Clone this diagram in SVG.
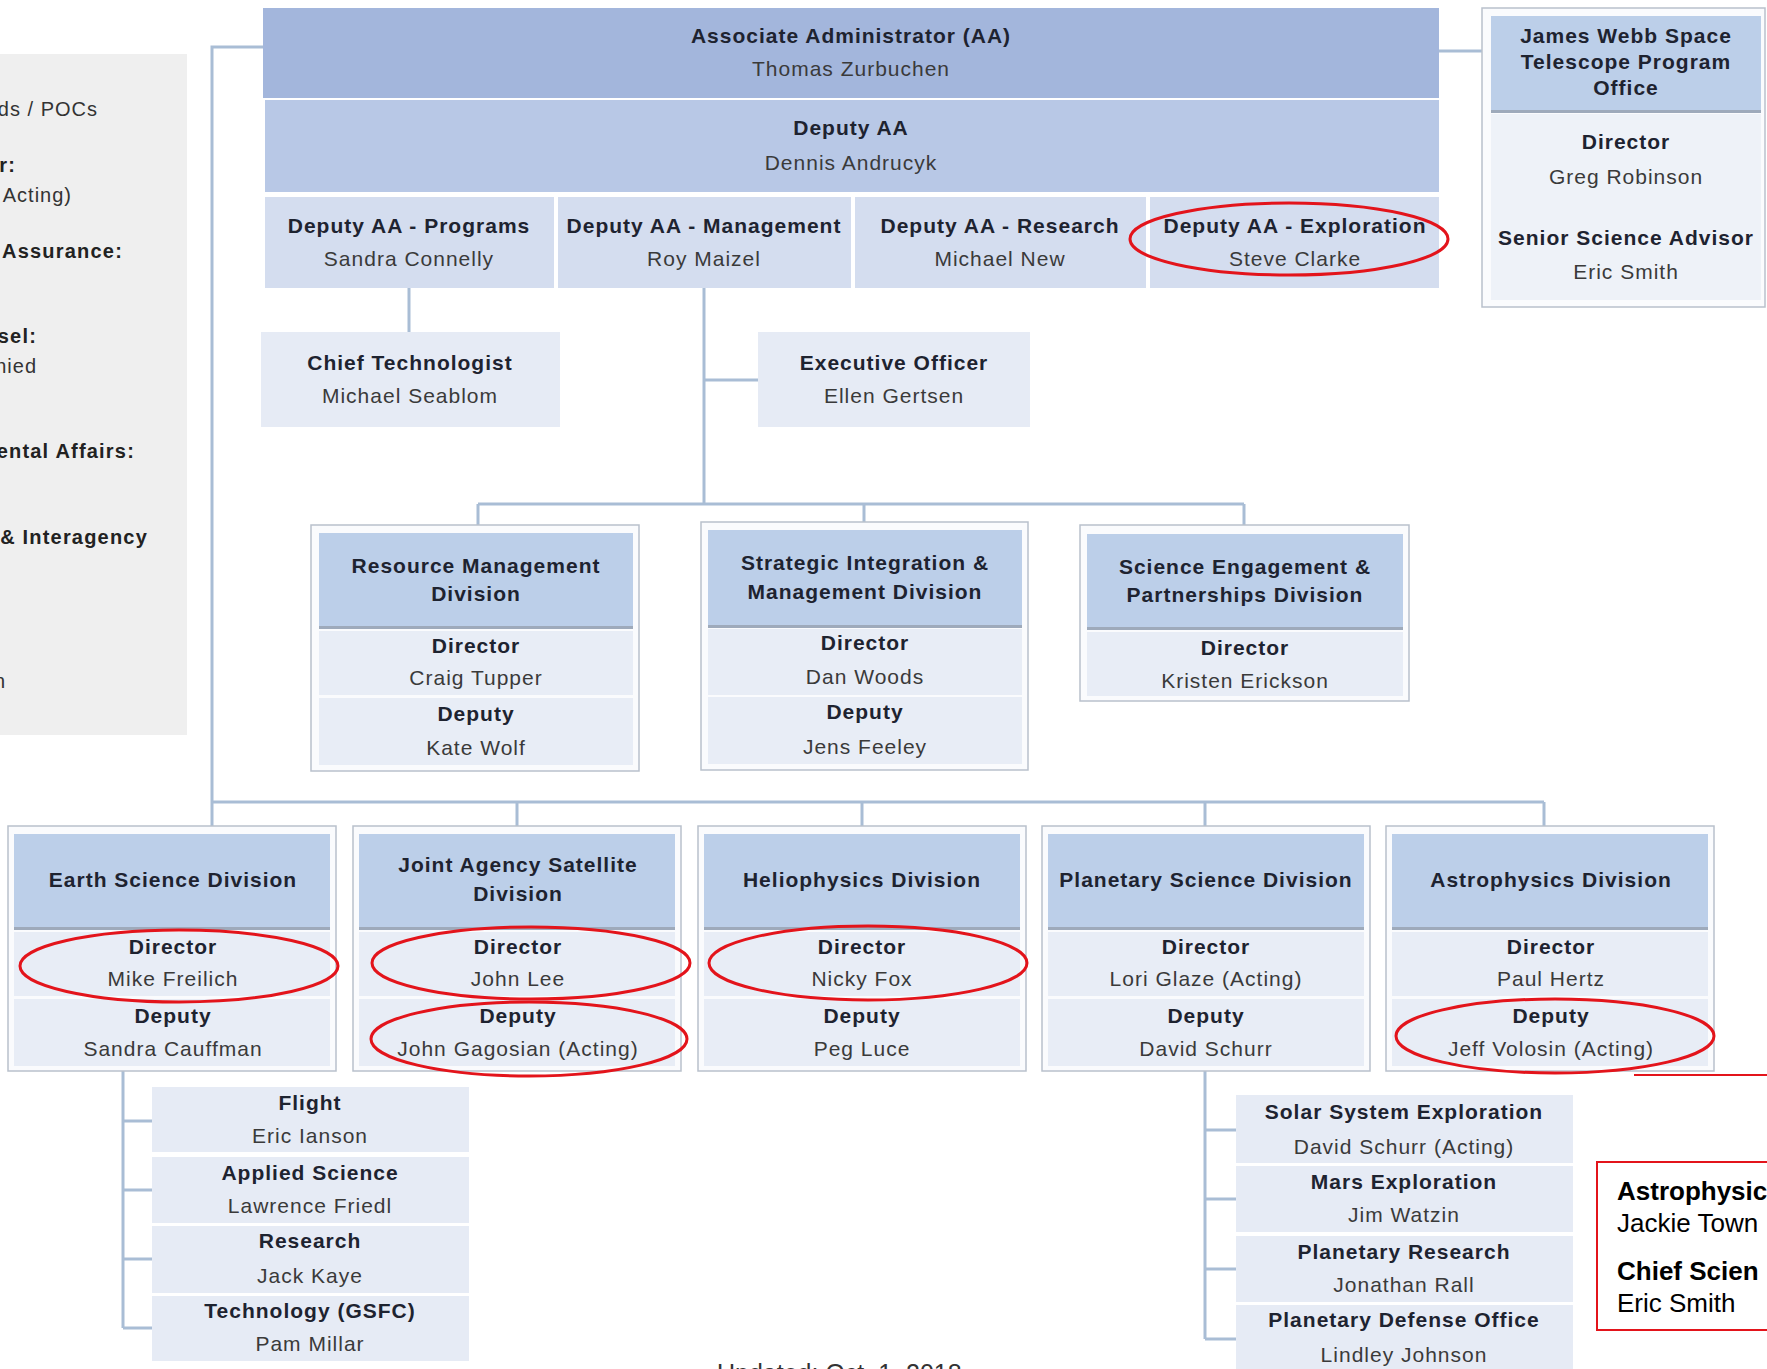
<svg xmlns="http://www.w3.org/2000/svg" width="1767" height="1369" viewBox="0 0 1767 1369">
<style>
text{font-family:"Liberation Sans",Arial,sans-serif;font-size:21px;letter-spacing:1px;text-anchor:middle}
.b{font-weight:bold;fill:#1e2330}
.n{fill:#3a3a3a}
.lp{text-anchor:end;fill:#333;font-size:20px;letter-spacing:1px}
.lpb{text-anchor:end;fill:#222;font-size:20px;font-weight:bold;letter-spacing:1.2px}
.rb{text-anchor:start;font-size:26px;letter-spacing:0;fill:#000}
.conn{stroke:#a9bdd5;stroke-width:3;fill:none}
.outer{fill:#fafbfd;stroke:#b9c1cc;stroke-width:1.5}
.hdr{fill:#bccfe9}
.shd{fill:#9eaabb}
.row{fill:#e8edf6}
.sub{fill:#e6ebf5}
.ell{fill:none;stroke:#e3141b;stroke-width:3}
</style>
<rect width="1767" height="1369" fill="#ffffff"/>

<g id="left-panel">
<rect x="0" y="54" width="187" height="681" fill="#efefef"/>
<text class="lp" x="98" y="116">ds / POCs</text>
<text class="lpb" x="16" y="172">r:</text>
<text class="lp" x="72" y="202">Acting)</text>
<text class="lpb" x="123" y="258">Assurance:</text>
<text class="lpb" x="37" y="343">sel:</text>
<text class="lp" x="37" y="373">nied</text>
<text class="lpb" x="135" y="458">ental Affairs:</text>
<text class="lpb" x="148" y="544">&amp; Interagency</text>
<text class="lp" x="6" y="688">n</text>
</g>

<g id="connectors">
<path class="conn" d="M263,47 H212 V826"/>
<path class="conn" d="M212,802 H1544"/>
<path class="conn" d="M517,802 V826 M862,802 V826 M1205,802 V826 M1544,802 V826"/>
<path class="conn" d="M409,288 V332"/>
<path class="conn" d="M704,288 V504 M704,380 H758"/>
<path class="conn" d="M478,504 H1244 M478,504 V525 M864,504 V522 M1244,504 V525"/>
<path class="conn" d="M1439,51 H1482"/>
<path class="conn" d="M123,1071 V1328 M123,1121 H152 M123,1190 H152 M123,1259 H152 M123,1328 H152"/>
<path class="conn" d="M1205,1071 V1339 M1205,1130 H1236 M1205,1199 H1236 M1205,1269 H1236 M1205,1339 H1236"/>
</g>

<g id="aa">
<rect x="263" y="8" width="1176" height="90" fill="#a3b6dc"/>
<text class="b" x="851" y="43">Associate Administrator (AA)</text>
<text class="n" x="851" y="76">Thomas Zurbuchen</text>
</g>
<g id="deputy-aa">
<rect x="265" y="100" width="1174" height="92" fill="#b8c8e6"/>
<text class="b" x="851" y="135">Deputy AA</text>
<text class="n" x="851" y="170">Dennis Andrucyk</text>
</g>
<g id="dep-programs">
<rect x="265" y="197" width="289" height="91" fill="#d4ddef"/>
<text class="b" x="409" y="233">Deputy AA - Programs</text>
<text class="n" x="409" y="266">Sandra Connelly</text>
</g>
<g id="dep-management">
<rect x="558" y="197" width="293" height="91" fill="#d4ddef"/>
<text class="b" x="704" y="233">Deputy AA - Management</text>
<text class="n" x="704" y="266">Roy Maizel</text>
</g>
<g id="dep-research">
<rect x="855" y="197" width="291" height="91" fill="#d4ddef"/>
<text class="b" x="1000" y="233">Deputy AA - Research</text>
<text class="n" x="1000" y="266">Michael New</text>
</g>
<g id="dep-exploration">
<rect x="1150" y="197" width="289" height="91" fill="#d4ddef"/>
<text class="b" x="1295" y="233">Deputy AA - Exploration</text>
<text class="n" x="1295" y="266">Steve Clarke</text>
</g>

<g id="jwst">
<rect class="outer" x="1482" y="8" width="283" height="299"/>
<rect class="hdr" x="1491" y="16" width="270" height="96"/>
<rect class="shd" x="1491" y="110" width="270" height="3"/>
<rect x="1491" y="114" width="270" height="186" fill="#eef2f8"/>
<text class="b" x="1626" y="43">James Webb Space</text>
<text class="b" x="1626" y="69">Telescope Program</text>
<text class="b" x="1626" y="95">Office</text>
<text class="b" x="1626" y="149">Director</text>
<text class="n" x="1626" y="184">Greg Robinson</text>
<text class="b" x="1626" y="245">Senior Science Advisor</text>
<text class="n" x="1626" y="279">Eric Smith</text>
</g>

<g id="chief-technologist">
<rect x="261" y="332" width="299" height="95" fill="#e6ebf5"/>
<text class="b" x="410" y="370">Chief Technologist</text>
<text class="n" x="410" y="403">Michael Seablom</text>
</g>
<g id="executive-officer">
<rect x="758" y="332" width="272" height="95" fill="#e6ebf5"/>
<text class="b" x="894" y="370">Executive Officer</text>
<text class="n" x="894" y="403">Ellen Gertsen</text>
</g>

<g id="resource-management">
<rect class="outer" x="311" y="525" width="328" height="246"/>
<rect class="hdr" x="319" y="533" width="314" height="95"/>
<rect class="shd" x="319" y="626" width="314" height="3"/>
<rect class="row" x="319" y="631" width="314" height="64"/>
<rect class="row" x="319" y="698" width="314" height="67"/>
<text class="b" x="476" y="573">Resource Management</text>
<text class="b" x="476" y="601">Division</text>
<text class="b" x="476" y="653">Director</text>
<text class="n" x="476" y="685">Craig Tupper</text>
<text class="b" x="476" y="721">Deputy</text>
<text class="n" x="476" y="755">Kate Wolf</text>
</g>
<g id="strategic-integration">
<rect class="outer" x="701" y="522" width="327" height="248"/>
<rect class="hdr" x="708" y="530" width="314" height="97"/>
<rect class="shd" x="708" y="625" width="314" height="3"/>
<rect class="row" x="708" y="629" width="314" height="66"/>
<rect class="row" x="708" y="697" width="314" height="67"/>
<text class="b" x="865" y="570">Strategic Integration &amp;</text>
<text class="b" x="865" y="599">Management Division</text>
<text class="b" x="865" y="650">Director</text>
<text class="n" x="865" y="684">Dan Woods</text>
<text class="b" x="865" y="719">Deputy</text>
<text class="n" x="865" y="754">Jens Feeley</text>
</g>
<g id="science-engagement">
<rect class="outer" x="1080" y="525" width="329" height="176"/>
<rect class="hdr" x="1087" y="534" width="316" height="95"/>
<rect class="shd" x="1087" y="627" width="316" height="3"/>
<rect class="row" x="1087" y="632" width="316" height="64"/>
<text class="b" x="1245" y="574">Science Engagement &amp;</text>
<text class="b" x="1245" y="602">Partnerships Division</text>
<text class="b" x="1245" y="655">Director</text>
<text class="n" x="1245" y="688">Kristen Erickson</text>
</g>

<g id="earth-science">
<rect class="outer" x="8" y="826" width="328" height="245"/>
<rect class="hdr" x="14" y="834" width="316" height="95"/>
<rect class="shd" x="14" y="927" width="316" height="3"/>
<rect class="row" x="14" y="932" width="316" height="64"/>
<rect class="row" x="14" y="999" width="316" height="67"/>
<text class="b" x="173" y="887">Earth Science Division</text>
<text class="b" x="173" y="954">Director</text>
<text class="n" x="173" y="986">Mike Freilich</text>
<text class="b" x="173" y="1023">Deputy</text>
<text class="n" x="173" y="1056">Sandra Cauffman</text>
</g>
<g id="jasd">
<rect class="outer" x="353" y="826" width="328" height="245"/>
<rect class="hdr" x="359" y="834" width="316" height="95"/>
<rect class="shd" x="359" y="927" width="316" height="3"/>
<rect class="row" x="359" y="932" width="316" height="64"/>
<rect class="row" x="359" y="999" width="316" height="67"/>
<text class="b" x="518" y="872">Joint Agency Satellite</text>
<text class="b" x="518" y="901">Division</text>
<text class="b" x="518" y="954">Director</text>
<text class="n" x="518" y="986">John Lee</text>
<text class="b" x="518" y="1023">Deputy</text>
<text class="n" x="518" y="1056">John Gagosian (Acting)</text>
</g>
<g id="heliophysics">
<rect class="outer" x="698" y="826" width="328" height="245"/>
<rect class="hdr" x="704" y="834" width="316" height="95"/>
<rect class="shd" x="704" y="927" width="316" height="3"/>
<rect class="row" x="704" y="932" width="316" height="64"/>
<rect class="row" x="704" y="999" width="316" height="67"/>
<text class="b" x="862" y="887">Heliophysics Division</text>
<text class="b" x="862" y="954">Director</text>
<text class="n" x="862" y="986">Nicky Fox</text>
<text class="b" x="862" y="1023">Deputy</text>
<text class="n" x="862" y="1056">Peg Luce</text>
</g>
<g id="planetary-science">
<rect class="outer" x="1042" y="826" width="328" height="245"/>
<rect class="hdr" x="1048" y="834" width="316" height="95"/>
<rect class="shd" x="1048" y="927" width="316" height="3"/>
<rect class="row" x="1048" y="932" width="316" height="64"/>
<rect class="row" x="1048" y="999" width="316" height="67"/>
<text class="b" x="1206" y="887">Planetary Science Division</text>
<text class="b" x="1206" y="954">Director</text>
<text class="n" x="1206" y="986">Lori Glaze (Acting)</text>
<text class="b" x="1206" y="1023">Deputy</text>
<text class="n" x="1206" y="1056">David Schurr</text>
</g>
<g id="astrophysics">
<rect class="outer" x="1386" y="826" width="328" height="245"/>
<rect class="hdr" x="1392" y="834" width="316" height="95"/>
<rect class="shd" x="1392" y="927" width="316" height="3"/>
<rect class="row" x="1392" y="932" width="316" height="64"/>
<rect class="row" x="1392" y="999" width="316" height="67"/>
<text class="b" x="1551" y="887">Astrophysics Division</text>
<text class="b" x="1551" y="954">Director</text>
<text class="n" x="1551" y="986">Paul Hertz</text>
<text class="b" x="1551" y="1023">Deputy</text>
<text class="n" x="1551" y="1056">Jeff Volosin (Acting)</text>
</g>

<g id="earth-sub">
<rect class="sub" x="152" y="1087" width="317" height="65"/>
<rect class="sub" x="152" y="1157" width="317" height="66"/>
<rect class="sub" x="152" y="1226" width="317" height="67"/>
<rect class="sub" x="152" y="1296" width="317" height="65"/>
<text class="b" x="310" y="1110">Flight</text>
<text class="n" x="310" y="1143">Eric Ianson</text>
<text class="b" x="310" y="1180">Applied Science</text>
<text class="n" x="310" y="1213">Lawrence Friedl</text>
<text class="b" x="310" y="1248">Research</text>
<text class="n" x="310" y="1283">Jack Kaye</text>
<text class="b" x="310" y="1318">Technology (GSFC)</text>
<text class="n" x="310" y="1351">Pam Millar</text>
</g>

<g id="planetary-sub">
<rect class="sub" x="1236" y="1095" width="337" height="68"/>
<rect class="sub" x="1236" y="1166" width="337" height="66"/>
<rect class="sub" x="1236" y="1236" width="337" height="66"/>
<rect class="sub" x="1236" y="1305" width="337" height="64"/>
<text class="b" x="1404" y="1119">Solar System Exploration</text>
<text class="n" x="1404" y="1154">David Schurr (Acting)</text>
<text class="b" x="1404" y="1189">Mars Exploration</text>
<text class="n" x="1404" y="1222">Jim Watzin</text>
<text class="b" x="1404" y="1259">Planetary Research</text>
<text class="n" x="1404" y="1292">Jonathan Rall</text>
<text class="b" x="1404" y="1327">Planetary Defense Office</text>
<text class="n" x="1404" y="1362">Lindley Johnson</text>
</g>

<g id="highlights">
<ellipse class="ell" cx="1289" cy="239" rx="159" ry="36"/>
<ellipse class="ell" cx="179" cy="966" rx="159" ry="36"/>
<ellipse class="ell" cx="531" cy="963" rx="159" ry="36"/>
<ellipse class="ell" cx="529" cy="1039" rx="158" ry="37"/>
<ellipse class="ell" cx="868" cy="963" rx="159" ry="37"/>
<ellipse class="ell" cx="1555" cy="1036" rx="159" ry="37"/>
<line x1="1634" y1="1075" x2="1767" y2="1075" stroke="#e3141b" stroke-width="2"/>
</g>

<g id="callout">
<rect x="1597" y="1162" width="180" height="168" fill="#ffffff" stroke="#e3141b" stroke-width="2"/>
<text class="rb" x="1617" y="1200" font-weight="bold">Astrophysic</text>
<text class="rb" x="1617" y="1232">Jackie Town</text>
<text class="rb" x="1617" y="1280" font-weight="bold">Chief Scien</text>
<text class="rb" x="1617" y="1312">Eric Smith</text>
</g>

<g id="footer">
<text x="717" y="1382" style="text-anchor:start;font-size:25px;letter-spacing:0;fill:#333">Updated: Oct. 1, 2018</text>
</g>
</svg>
